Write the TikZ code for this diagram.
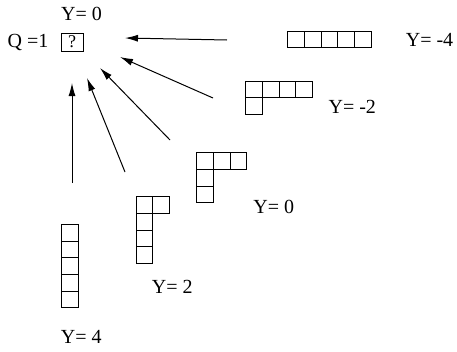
\documentclass[tikz,border=0pt]{standalone}
\usepackage{fontspec}
\setmainfont{Liberation Serif}
\usetikzlibrary{arrows.meta}
\begin{document}
\begin{tikzpicture}[x=1pt,y=-1pt,
  cell/.style={draw, line width=0.9pt, minimum size=16.67pt, inner sep=0pt, outer sep=0pt, anchor=north west},
  lbl/.style={font=\fontsize{20}{20}\selectfont, inner sep=0pt},
  arr/.style={line width=1pt, -{Latex[length=13pt,width=7pt]}}]
\useasboundingbox (0,0) rectangle (457,351);
% target
\node[draw, line width=0.9pt, minimum width=22pt, minimum height=18pt, inner sep=0pt, font=\fontsize{18}{18}\selectfont] (q) at (72,42) {?};
\node[lbl] (qlbl) at (28,42) {Q =1};
\node[lbl] (y0top) at (81.5,14) {Y= 0};
% Y=-4
\foreach \i in {0,...,4} \node[cell] (a\i) at (287.7+\i*16.67,31) {};
\node[lbl] (la) at (429.5,40) {Y= -4};
% Y=-2
\foreach \i in {0,...,3} \node[cell] (b\i) at (245.7+\i*16.67,81) {};
\node[cell] (b4) at (245.7,97.67) {};
\node[lbl] (lb) at (352.3,107) {Y= -2};
% Y=0
\foreach \i in {0,...,2} \node[cell] (c\i) at (196.7+\i*16.67,152.7) {};
\foreach \j in {1,2} \node[cell] (c\j v) at (196.7,152.7+\j*16.67) {};
\node[lbl] (lc) at (273.8,206.7) {Y= 0};
% Y=2
\foreach \i in {0,1} \node[cell] (d\i) at (136+\i*16.67,196.7) {};
\foreach \j in {1,2,3} \node[cell] (d\j v) at (136,196.7+\j*16.67) {};
\node[lbl] (ld) at (172.2,286.7) {Y= 2};
% Y=4
\foreach \j in {0,...,4} \node[cell] (e\j) at (61.7,224.3+\j*16.67) {};
\node[lbl] (le) at (81.3,336.7) {Y= 4};
% arrow ends
\coordinate (ta) at (227,40);
\coordinate (ha) at (125,38);
\coordinate (tb) at (213,98);
\coordinate (hb) at (120,57);
\coordinate (tc) at (170,140);
\coordinate (hc) at (100,68);
\coordinate (td) at (125,172);
\coordinate (hd) at (87,78);
\coordinate (te) at (72,183);
\coordinate (he) at (72,83);
\draw[arr] (ta) -- (ha);
\draw[arr] (tb) -- (hb);
\draw[arr] (tc) -- (hc);
\draw[arr] (td) -- (hd);
\draw[arr] (te) -- (he);
\end{tikzpicture}
\end{document}
